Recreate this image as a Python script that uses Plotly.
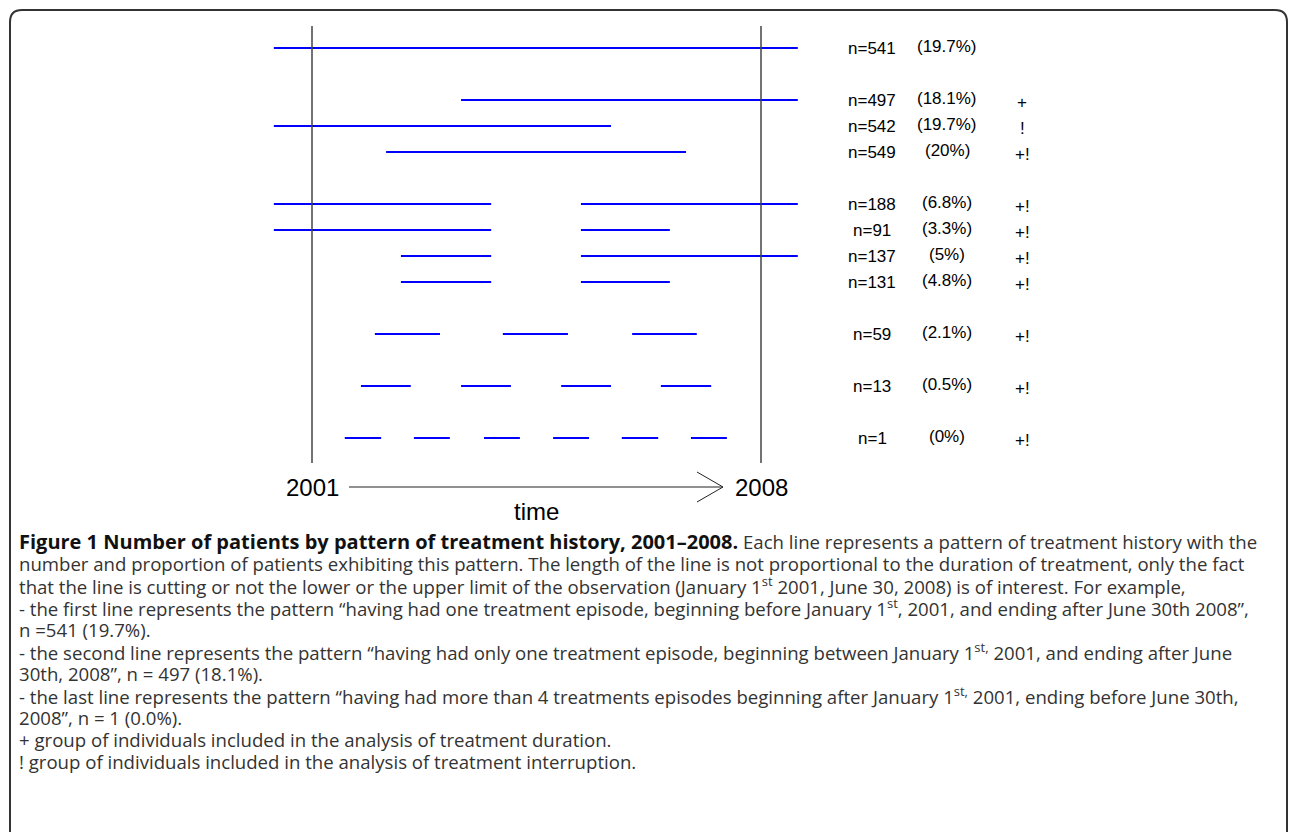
import plotly.graph_objects as go

W, H = 1290, 832

# ---------------- data ----------------
# time position of each treatment segment, on a scale where 2001 = 0 and 2008 = 100
seg_starts = [
    [-8.5],
    [33.2],
    [-8.5],
    [16.5],
    [-8.5, 59.9],
    [-8.5, 59.9],
    [19.8, 59.9],
    [19.8, 59.9],
    [14.0, 42.5, 71.3],
    [10.9, 33.2, 55.5, 77.7],
    [7.3, 22.7, 38.3, 53.7, 69.0, 84.4],
]
seg_ends = [
    [108.2],
    [108.2],
    [66.6],
    [83.3],
    [39.9, 108.2],
    [39.9, 79.7],
    [39.9, 108.2],
    [39.9, 79.7],
    [28.5, 57.0, 85.7],
    [22.0, 44.3, 66.6, 88.9],
    [15.4, 30.7, 46.3, 61.7, 77.1, 92.4],
]
# vertical slot of each pattern (gaps between groups)
row_slot = [0, 2, 3, 4, 6, 7, 8, 9, 11, 13, 15]
n_labels = ["n=541", "n=497", "n=542", "n=549", "n=188", "n=91", "n=137", "n=131", "n=59", "n=13", "n=1"]
pct_labels = ["(19.7%)", "(18.1%)", "(19.7%)", "(20%)", "(6.8%)", "(3.3%)", "(5%)", "(4.8%)", "(2.1%)", "(0.5%)", "(0%)"]
flag_labels = ["", "+", "!", "+!", "+!", "+!", "+!", "+!", "+!", "+!", "+!"]
axis_labels = ["2001", "2008"]
axis_positions = [0, 100]
axis_title = "time"

caption_title = "Figure 1 Number of patients by pattern of treatment history, 2001–2008."
caption_lines = [
    " Each line represents a pattern of treatment history with the",
    "number and proportion of patients exhibiting this pattern. The length of the line is not proportional to the duration of treatment, only the fact",
    "that the line is cutting or not the lower or the upper limit of the observation (January 1<sup>st</sup> 2001, June 30, 2008) is of interest. For example,",
    "- the first line represents the pattern “having had one treatment episode, beginning before January 1<sup>st</sup>, 2001, and ending after June 30th 2008”,",
    "n =541 (19.7%).",
    "- the second line represents the pattern “having had only one treatment episode, beginning between January 1<sup>st,</sup> 2001, and ending after June",
    "30th, 2008”, n = 497 (18.1%).",
    "- the last line represents the pattern “having had more than 4 treatments episodes beginning after January 1<sup>st,</sup> 2001, ending before June 30th,",
    "2008”, n = 1 (0.0%).",
    "+ group of individuals included in the analysis of treatment duration.",
    "! group of individuals included in the analysis of treatment interruption.",
]

# ---------------- layout geometry (pixels) ----------------
X0_PX, X100_PX = 312.0, 761.0       # pixel of time 0 and time 100
SLOT0_PX, SLOT_PX = 48.0, 26.0      # pixel of slot 0, pixels per slot
px_per_unit = (X100_PX - X0_PX) / 100.0
x_range = [(0 - X0_PX) / px_per_unit, (W - X0_PX) / px_per_unit]
y_range = [(H - SLOT0_PX) / SLOT_PX, (0 - SLOT0_PX) / SLOT_PX]


def ys(px):  # pixel y -> slot units
    return (px - SLOT0_PX) / SLOT_PX


def xs(px):  # pixel x -> time units
    return (px - X0_PX) / px_per_unit


def pxp(px):
    return px / W


def pyp(py):
    return 1 - py / H


fig = go.Figure()

# treatment segments
for s_list, e_list, slot in zip(seg_starts, seg_ends, row_slot):
    xx, yy = [], []
    for s, e in zip(s_list, e_list):
        xx += [s, e, None]
        yy += [slot, slot, None]
    fig.add_trace(go.Scatter(x=xx, y=yy, mode="lines",
                             line=dict(color="#0000ff", width=2),
                             hoverinfo="skip", showlegend=False))

shapes = []
# observation limits
for xp in axis_positions:
    shapes.append(dict(type="line", xref="x", yref="y", x0=xp, x1=xp,
                       y0=ys(26), y1=ys(463), line=dict(color="#444444", width=1.5)))

# time arrow
arrow_y = ys(487)
shapes.append(dict(type="line", xref="x", yref="y", x0=xs(349), x1=xs(723),
                   y0=arrow_y, y1=arrow_y, line=dict(color="#222222", width=1)))
shapes.append(dict(type="path", xref="x", yref="y",
                   path=f"M {xs(697)},{ys(472)} L {xs(723)},{arrow_y} L {xs(697)},{ys(502)}",
                   line=dict(color="#222222", width=1)))

# rounded frame
r = 12
L, T, R, B = 10, 10, 1287, 900
path = (f"M {pxp(L)},{pyp(B)} L {pxp(L)},{pyp(T + r)} Q {pxp(L)},{pyp(T)} {pxp(L + r)},{pyp(T)} "
        f"L {pxp(R - r)},{pyp(T)} Q {pxp(R)},{pyp(T)} {pxp(R)},{pyp(T + r)} L {pxp(R)},{pyp(B)}")
shapes.append(dict(type="path", xref="paper", yref="paper", path=path,
                   line=dict(color="#333333", width=2)))

annotations = []
chart_font = "Liberation Sans, Arial, Helvetica, sans-serif"
for slot, nl, pl, fl in zip(row_slot, n_labels, pct_labels, flag_labels):
    annotations.append(dict(x=pxp(872), y=slot, xref="paper", yref="y", text=nl, showarrow=False,
                            xanchor="center", yanchor="middle", borderpad=0,
                            font=dict(family=chart_font, size=17, color="#000")))
    annotations.append(dict(x=pxp(947), y=slot - 0.06, xref="paper", yref="y", text=pl, showarrow=False,
                            xanchor="center", yanchor="middle", borderpad=0,
                            font=dict(family=chart_font, size=17, color="#000")))
    if fl:
        annotations.append(dict(x=pxp(1022), y=slot + 0.1, xref="paper", yref="y", text=fl, showarrow=False,
                                xanchor="center", yanchor="middle", borderpad=0,
                                font=dict(family=chart_font, size=17, color="#000")))

for lab, pos in zip(axis_labels, axis_positions):
    annotations.append(dict(x=pos, y=arrow_y, xref="x", yref="y", text=lab, showarrow=False,
                            xanchor="center", yanchor="middle", borderpad=0,
                            font=dict(family=chart_font, size=24, color="#000")))
annotations.append(dict(x=50, y=ys(511), xref="x", yref="y", text=axis_title, showarrow=False,
                        xanchor="center", yanchor="middle", borderpad=0,
                        font=dict(family=chart_font, size=24, color="#000")))

cap_font = "Open Sans, Noto Sans, sans-serif"
for i, line in enumerate(caption_lines):
    text = line
    if i == 0:
        text = f"<b><span style='font-size:20px;color:#111'>{caption_title}</span></b>" + line
    annotations.append(dict(x=pxp(18), y=pyp(541 + 22 * i), xref="paper", yref="paper", text=text,
                            showarrow=False, xanchor="left", yanchor="middle", borderpad=0,
                            font=dict(family=cap_font, size=18.6, color="#333333")))

fig.update_layout(
    width=W, height=H, autosize=False,
    margin=dict(l=0, r=0, t=0, b=0, pad=0),
    paper_bgcolor="white", plot_bgcolor="white",
    xaxis=dict(range=x_range, visible=False, fixedrange=True),
    yaxis=dict(range=y_range, visible=False, fixedrange=True),
    shapes=shapes, annotations=annotations, showlegend=False,
)

fig.write_html("out.html", config={"displayModeBar": False},
               post_script="document.body.style.margin='0';document.body.style.overflow='hidden';")
